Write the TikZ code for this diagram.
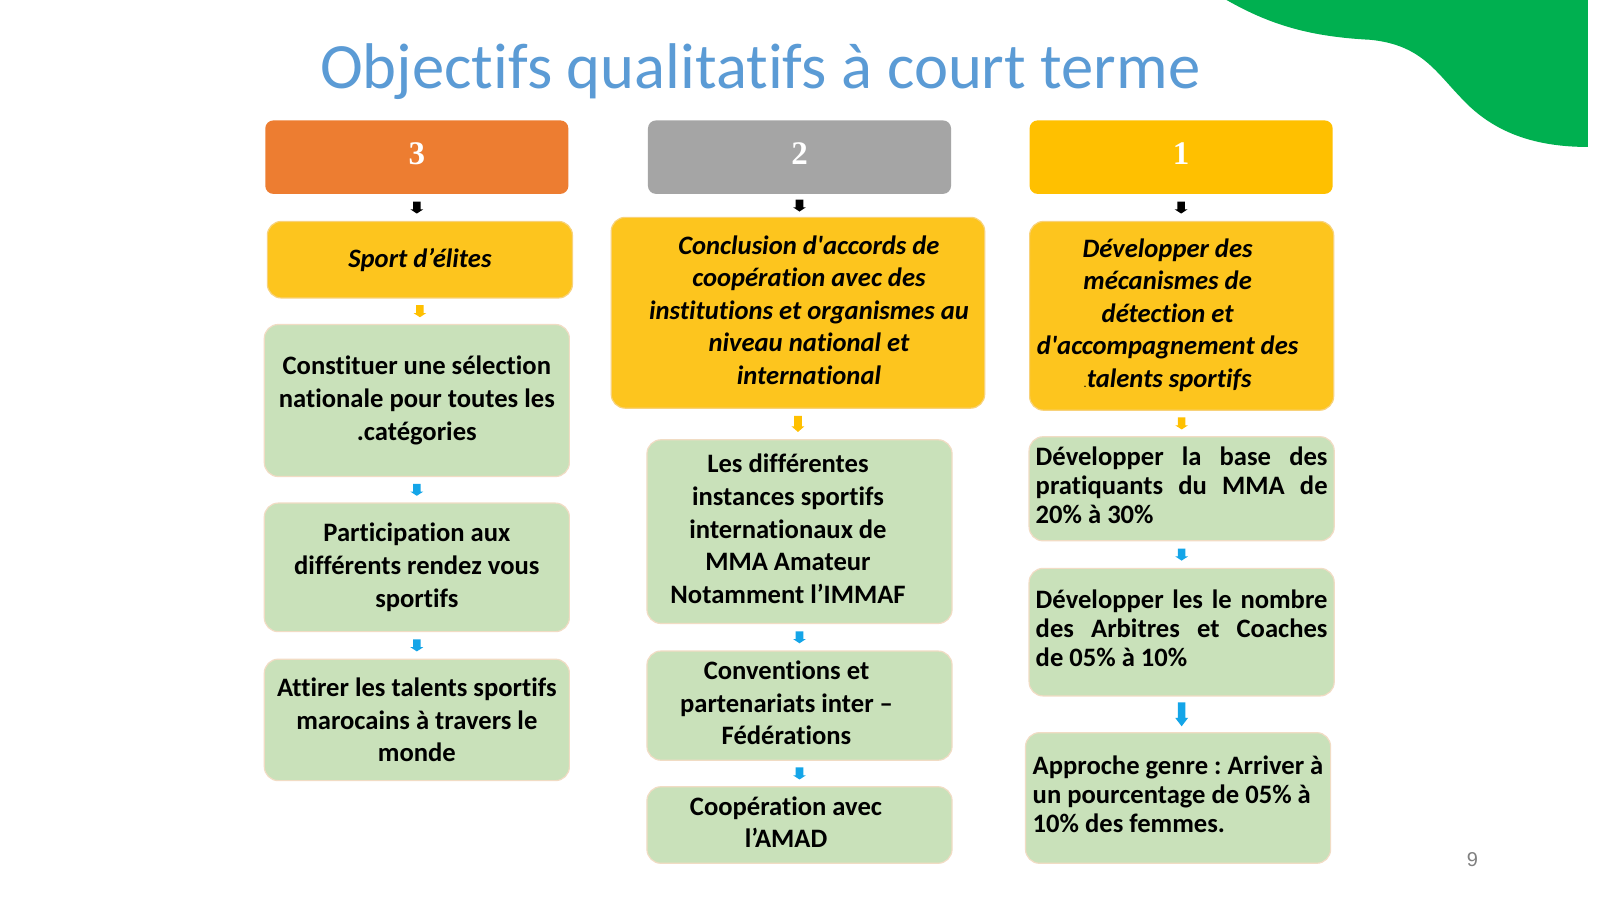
\documentclass[tikz,border=0pt]{standalone}
\usepackage{fontspec}
\setmainfont{Carlito}[Ligatures=CommonOff]
\newfontfamily\pagenofont{Liberation Sans}
\newfontfamily\digitfont{Liberation Serif}
\usetikzlibrary{decorations.markings}
\frenchspacing
\definecolor{hdrorange}{HTML}{ED7D31}
\definecolor{hdrgray}{HTML}{A5A5A5}
\definecolor{hdrgold}{HTML}{FFC000}
\definecolor{boxgold}{HTML}{FDC51E}
\definecolor{edgegold}{HTML}{F8D27A}
\definecolor{boxgreen}{HTML}{C9E1BA}
\definecolor{edgepeach}{HTML}{F1DCC4}
\definecolor{arrowblue}{HTML}{14A5E8}
\definecolor{titleblue}{HTML}{5B9BD5}
\definecolor{blobgreen}{HTML}{00B050}
% 0.5102pt = 800pt/1568 = one unit of the slide
\newlength\pxu
\setlength\pxu{0.5102pt}
\newcommand\lns[1]{\begin{tabular}{@{}c@{}}#1\end{tabular}}
\newcommand\jlns[1]{\begin{tabular}{@{}l@{}}#1\end{tabular}}
\begin{document}
\begin{tikzpicture}
% y runs downwards as in the slide
[x=\pxu, y=-\pxu,
 hdr/.style={rounded corners=4pt, fill=#1, text=white, minimum width={297*\pxu}, minimum height={72*\pxu},
   font=\digitfont\bfseries\fontsize{16.5}{20}\selectfont, text height=11pt, text depth=4pt},
 ybox/.style={rounded corners=7pt, fill=boxgold, draw=edgegold, line width=0.6pt, align=center,
   font=\fontsize{13.3}{16.3}\selectfont\bfseries\itshape, inner sep=2pt},
 gbase/.style={rounded corners=7pt, fill=boxgreen, draw=edgepeach, line width=0.6pt,
   font=\fontsize{13.3}{16.3}\selectfont\bfseries, minimum width={299*\pxu}, inner sep=2pt},
 gbox/.style={gbase, align=center},
 jbox/.style={gbase, font=\fontsize{13.3}{14.5}\selectfont\bfseries},
 % #1 = arrow length, #2 = colour
 conn/.style n args={2}{decoration={markings, mark=at position 0.5 with {
   \fill[#2] (-#1/2,1.9pt) -- (#1/2-0.35*#1,1.9pt) -- (#1/2-0.35*#1,3.2pt) -- (#1/2,0pt)
     -- (#1/2-0.35*#1,-3.2pt) -- (#1/2-0.35*#1,-1.9pt) -- (-#1/2,-1.9pt) -- cycle;}},
   postaction={decorate}}]
\useasboundingbox (0,0) rectangle (1568,882);
\fill[white] (0,0) rectangle (1568,882);
% green corner
\fill[blobgreen] (1202,0) .. controls (1245,24.5) and (1284,36) .. (1343,39)
  .. controls (1392,44) and (1406,69) .. (1431,95)
  .. controls (1460,127) and (1499,144) .. (1556,144) -- (1556,0) -- cycle;
\node[font=\fontsize{32.3}{38}\selectfont, text=titleblue, anchor=base] (title) at (745,87)
  {Objectifs qualitatifs à court terme};
% column 3
% 297 = 557-260 = header width
\node[hdr=hdrorange] (h3) at (408.5,154) {3};
\node[ybox, minimum width={299*\pxu}, minimum height={75*\pxu}] (s3) at (411.5,254.5) {Sport d’élites};
\node[gbox, minimum height={149*\pxu}] (c3a) at (408.5,392.5)
  {Constituer une sélection\\nationale pour toutes les\\.catégories};
\node[gbox, minimum height={126*\pxu}] (c3b) at (408.5,556)
  {Participation aux\\différents rendez vous\\sportifs};
\node[gbox, minimum height={119*\pxu}] (c3c) at (408.5,705.5)
  {Attirer les talents sportifs\\marocains à travers le\\monde};
% column 2
\node[hdr=hdrgray] (h2) at (783.5,154) {2};
% 366 = 965-599
\node[ybox, minimum width={366*\pxu}, minimum height={187*\pxu}] (s2) at (782,306.5)
  {\hspace*{11pt}\lns{Conclusion d\textquotesingle accords de\\coopération avec des\\institutions et organismes au\\niveau national et\\international}};
\node[gbase, minimum height={180*\pxu}] (c2a) at (783.5,521)
  {\lns{Les différentes\\instances sportifs\\internationaux de\\MMA Amateur\\Notamment l’IMMAF}\hspace*{11.5pt}};
\node[gbase, minimum height={107*\pxu}] (c2b) at (783.5,691.5)
  {\lns{Conventions et\\partenariats inter –\\Fédérations}\hspace*{13pt}};
\node[gbase, minimum height={75*\pxu}] (c2c) at (783.5,808.5)
  {\lns{Coopération avec\\l’AMAD}\hspace*{13.5pt}};
% column 1
\node[hdr=hdrgold] (h1) at (1157.5,154) {1};
\node[ybox, minimum width={298*\pxu}, minimum height={185*\pxu}] (s1) at (1158,309.5)
  {\lns{Développer des\\mécanismes de\\détection et\\d\textquotesingle accompagnement des\\{\fontsize{6}{16}\selectfont\mdseries.}talents sportifs}\hspace*{14pt}};
% 286 = 1301-1015 = justified line
\node[jbox, minimum height={102*\pxu}] (c1a) at (1158,479)
  {\jlns{\makebox[286\pxu]{Développer\hfill la\hfill base\hfill des}\\
   \makebox[286\pxu]{pratiquants\hfill du\hfill MMA\hfill de}\\20\% à 30\%}};
\node[jbox, minimum height={125*\pxu}] (c1b) at (1158,619.5)
  {\jlns{\makebox[286\pxu]{Développer\hfill les\hfill le\hfill nombre}\\
   \makebox[286\pxu]{des\hfill Arbitres\hfill et\hfill Coaches}\\de 05\% à 10\%}};
\node[jbox, minimum height={128*\pxu}] (c1c) at (1154.5,782)
  {\jlns{Approche genre : Arriver à\\un pourcentage de 05\% à\\10\% des femmes.}};
% arrows: length / colour
\foreach \a/\b/\len/\col in {h3/s3/6pt/black, s3/c3a/6pt/hdrgold, c3a/c3b/6pt/arrowblue, c3b/c3c/6pt/arrowblue,
  h2/s2/6pt/black, s2/c2a/8pt/hdrgold, c2a/c2b/6pt/arrowblue, c2b/c2c/6pt/arrowblue,
  h1/s1/6pt/black, s1/c1a/6pt/hdrgold, c1a/c1b/6pt/arrowblue, c1b/c1c/12pt/arrowblue}
  \path[conn={\len}{\col}] (\a.south) -- (\a.south |- \b.north);
\node[font=\pagenofont\fontsize{10}{12}\selectfont, text=gray] (pageno) at (1443,842) {9};
\end{tikzpicture}
\end{document}
